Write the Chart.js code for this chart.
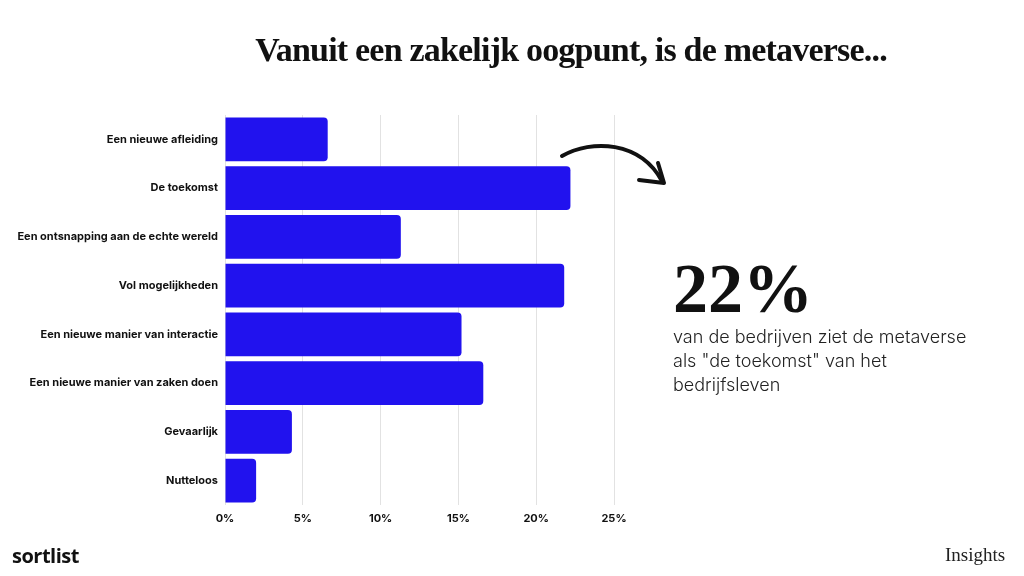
<!DOCTYPE html>
<html>
<head>
<meta charset="utf-8">
<script src="https://cdn.jsdelivr.net/npm/chart.js@4.4.0/dist/chart.umd.min.js"></script>
<style>
  html, body { margin: 0; padding: 0; background: #fff; }
  #wrap { position: relative; width: 1024px; height: 576px; overflow: hidden; }
  #myChart { position: absolute; left: 0; top: 0; }
  .title { position: absolute; left: 0; width: 1142px; top: 31px; text-align: center;
           font-family: "Liberation Serif", serif; font-weight: bold; font-size: 34px;
           letter-spacing: -0.8px; color: #111; white-space: nowrap; }
  .big { position: absolute; left: 673px; top: 254px; font-family: "Liberation Serif", serif;
         font-weight: bold; font-size: 70px; line-height: 70px; color: #111; }
  .para { position: absolute; left: 673px; top: 325px; width: 300px; font-family: Inter, sans-serif;
          font-weight: 300; font-size: 18px; line-height: 24px; color: #222; }
  .logo { position: absolute; left: 12px; top: 542px; font-family: "Open Sans", sans-serif;
          font-weight: 700; font-size: 20px; letter-spacing: -0.5px; color: #111; }
  .ins { position: absolute; left: 945px; top: 544px; font-family: "Liberation Serif", serif;
         font-size: 19px; color: #222; }
  svg { position: absolute; left: 0; top: 0; }
</style>
</head>
<body>
<div id="wrap">
  <canvas id="myChart" width="1024" height="576"></canvas>
  <div class="title">Vanuit een zakelijk oogpunt, is de metaverse...</div>
  <div class="big">22%</div>
  <div class="para">van de bedrijven ziet de metaverse als "de toekomst" van het bedrijfsleven</div>
  <div class="logo">sortlist</div>
  <div class="ins">Insights</div>
  <svg width="1024" height="576">
    <path d="M562,156 C592,139 640,141 662,181" fill="none" stroke="#111" stroke-width="4" stroke-linecap="round"/>
    <path d="M639,180 L664,183 L658,163" fill="none" stroke="#111" stroke-width="4" stroke-linecap="round" stroke-linejoin="round"/>
  </svg>
</div>
<script>
const categories = [
    "Een nieuwe afleiding",
    "De toekomst",
    "Een ontsnapping aan de echte wereld",
    "Vol mogelijkheden",
    "Een nieuwe manier van interactie",
    "Een nieuwe manier van zaken doen",
    "Gevaarlijk",
    "Nutteloos"
];
const percentages = [6.6, 22.2, 11.3, 21.8, 15.2, 16.6, 4.3, 2.0];
const tickValues = [0, 5, 10, 15, 20, 25];

new Chart('myChart', {
    type: "bar",
    data: {
        labels: categories,
        datasets: [{
            data: percentages,
            backgroundColor: "#2112ee",
            borderRadius: 4,
            barPercentage: 0.9,
            categoryPercentage: 1.0
        }]
    },
    options: {
        indexAxis: 'y',
        responsive: false,
        animation: false,
        layout: { padding: { left: 0, top: 115, right: 410, bottom: 41 } },
        plugins: {
            legend: { display: false },
            tooltip: { enabled: false }
        },
        scales: {
            x: {
                min: 0,
                max: 25,
                afterFit: function(scale){ scale.height = 30; },
                afterBuildTicks: function(scale){ scale.ticks = tickValues.map(v => ({ value: v })); },
                grid: { color: "#e2e2e2", drawTicks: false },
                border: { display: false },
                ticks: {
                    padding: 7,
                    color: "#111",
                    font: { family: "Inter", weight: "bold", size: 11 },
                    callback: function(v){ return v + "%"; }
                }
            },
            y: {
                afterFit: function(scale){ scale.width = 225; },
                grid: { display: false, drawTicks: false },
                border: { display: false },
                ticks: {
                    padding: 7,
                    color: "#111",
                    font: { family: "Inter", weight: "bold", size: 11 }
                }
            }
        }
    }
});
</script>
</body>
</html>
